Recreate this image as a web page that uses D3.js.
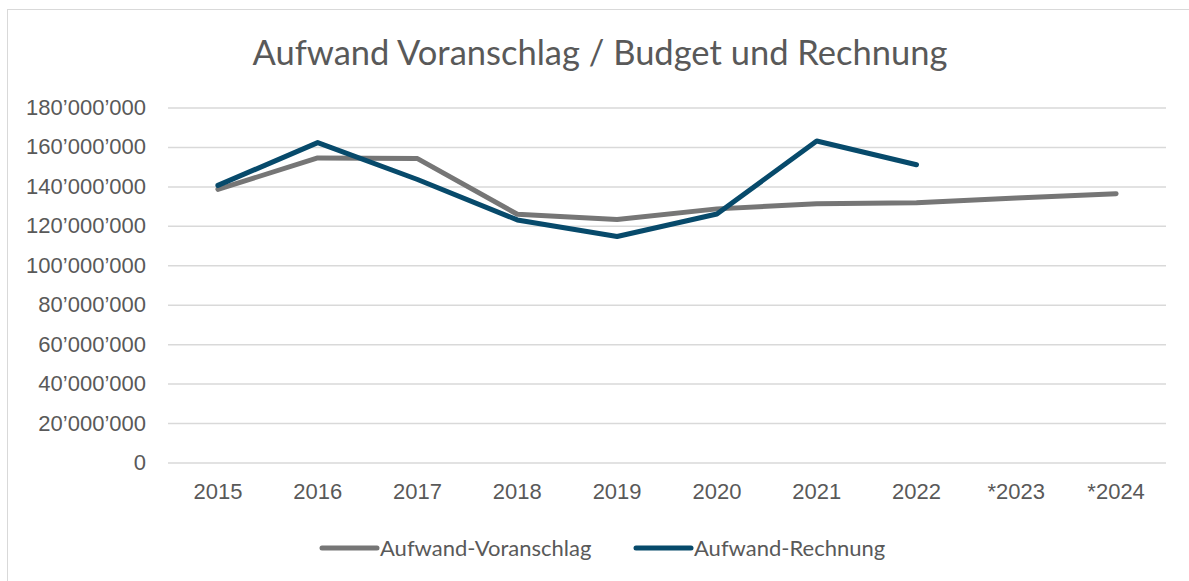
<!DOCTYPE html>
<html>
<head>
<meta charset="utf-8">
<script src="https://cdn.jsdelivr.net/npm/d3@7"></script>
<style>
  body { margin: 0; background: #fff; }
  svg { display: block; font-family: Lato, "Open Sans", sans-serif; }
</style>
</head>
<body>
<div id="chart"></div>
<script>
{
  const { d3 } = window;

  const categories = ['2015', '2016', '2017', '2018', '2019', '2020', '2021', '2022', '*2023', '*2024'];
  const voranschlag = [138.5e6, 154.4e6, 154.1e6, 125.9e6, 123.2e6, 128.6e6, 131.2e6, 131.7e6, 134.1e6, 136.3e6];
  const rechnung = [140.5e6, 162.2e6, 143.5e6, 123.0e6, 114.6e6, 126.0e6, 163.0e6, 151.0e6, null, null];
  const yTicks = [0, 20e6, 40e6, 60e6, 80e6, 100e6, 120e6, 140e6, 160e6, 180e6];

  const series = [
    { name: 'Aufwand-Voranschlag', values: voranschlag, color: '#767676' },
    { name: 'Aufwand-Rechnung', values: rechnung, color: '#074a6b' },
  ];

  const width = 1189;
  const height = 581;
  const textColor = '#595959';

  const svg = d3.select('#chart').append('svg')
    .attr('width', width)
    .attr('height', height);

  // chart frame (runs off the right and bottom edge)
  svg.append('rect')
    .attr('x', 7.5).attr('y', 9.5)
    .attr('width', 1200).attr('height', 600)
    .attr('fill', '#fff')
    .attr('stroke', '#d9d9d9');

  const x = d3.scaleBand()
    .domain(categories)
    .range([168, 1166]);

  const y = d3.scaleLinear()
    .domain([0, 180e6])
    .range([462.5, 107.5]);

  const fmt = (v) => d3.format(',')(v).replace(/,/g, '\u2019');

  svg.append('text')
    .attr('x', 600)
    .attr('y', 65)
    .attr('text-anchor', 'middle')
    .attr('fill', textColor)
    .style('font-size', '34.5px')
    .text('Aufwand Voranschlag / Budget und Rechnung');

  // gridlines + y labels
  const yAxis = svg.append('g')
    .attr('transform', 'translate(168,0)')
    .call(d3.axisLeft(y).tickValues(yTicks).tickSize(-998).tickPadding(22).tickFormat(fmt));
  yAxis.select('.domain').remove();
  yAxis.selectAll('.tick line').attr('stroke', '#d9d9d9').attr('stroke-width', 1.5);
  yAxis.selectAll('.tick text')
    .attr('fill', textColor)
    .style('font-size', '22px');

  const xAxis = svg.append('g')
    .attr('transform', 'translate(0,462.5)')
    .call(d3.axisBottom(x).tickSize(0).tickPadding(21));
  xAxis.select('.domain').remove();
  xAxis.selectAll('.tick text')
    .attr('fill', textColor)
    .style('font-size', '22px');

  const line = d3.line()
    .defined((d) => d != null)
    .x((d, i) => x(categories[i]) + x.bandwidth() / 2)
    .y((d) => y(d));

  svg.selectAll('.series')
    .data(series)
    .join('path')
    .attr('class', 'series')
    .attr('fill', 'none')
    .attr('stroke', (d) => d.color)
    .attr('stroke-width', 5)
    .attr('stroke-linecap', 'round')
    .attr('stroke-linejoin', 'round')
    .attr('d', (d) => line(d.values));

  // legend
  const legendX = [322, 636];
  const legend = svg.selectAll('.legend')
    .data(series)
    .join('g')
    .attr('class', 'legend')
    .attr('transform', (d, i) => `translate(${legendX[i]},548)`);
  legend.append('line')
    .attr('x1', 0).attr('x2', 55)
    .attr('stroke', (d) => d.color)
    .attr('stroke-width', 5)
    .attr('stroke-linecap', 'round');
  legend.append('text')
    .attr('x', 58)
    .attr('dy', '0.35em')
    .attr('fill', textColor)
    .style('font-size', '22px')
    .text((d) => d.name);
}
</script>
</body>
</html>
